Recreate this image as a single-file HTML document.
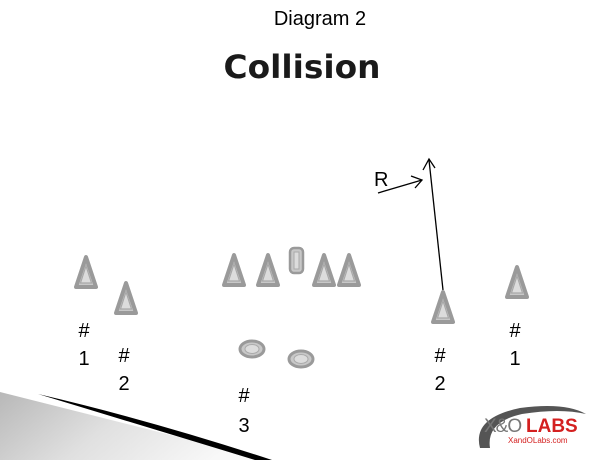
<!DOCTYPE html>
<html><head><style>
html,body{margin:0;padding:0;background:#fff;}
svg{display:block;}
text{font-family:"Liberation Sans",sans-serif;fill:#000;}
</style></head><body>
<svg width="604" height="460" viewBox="0 0 604 460" xmlns="http://www.w3.org/2000/svg">
<defs>
<g id="tri">
<path d="M0,-15 L10,15 L-10,15 Z" fill="#c8c8c8" stroke="#9a9a9a" stroke-width="4" stroke-linejoin="round"/>
<path d="M0,-6 L5.5,11 L-5.5,11 Z" fill="#dcdcdc" stroke="#a8a8a8" stroke-width="1.2"/>
</g>
<g id="ov">
<ellipse cx="0" cy="0" rx="12" ry="8" fill="#c8c8c8" stroke="#9a9a9a" stroke-width="3"/>
<ellipse cx="0" cy="0" rx="7" ry="4.5" fill="#dcdcdc" stroke="#aaa" stroke-width="1"/>
</g>
<linearGradient id="g" x1="0" y1="0" x2="1" y2="0.3">
<stop offset="0" stop-color="#b8b8b8"/><stop offset="0.5" stop-color="#e0e0e0"/><stop offset="1" stop-color="#f8f8f8"/>
</linearGradient>
</defs>
<text x="320" y="25" font-size="20" text-anchor="middle">Diagram 2</text>
<text x="302" y="78" font-size="32" font-weight="bold" text-anchor="middle" style="font-family:'DejaVu Sans',sans-serif;fill:#1a1a1a" textLength="157" lengthAdjust="spacingAndGlyphs">Collision</text>

<path d="M0,392 L270,460 L0,460 Z" fill="url(#g)"/>
<path d="M38,394 Q150,420 272,460 L255,460 Q150,428 38,394 Z" fill="#000"/>

<use href="#tri" x="86" y="272"/>
<use href="#tri" x="126" y="298"/>
<use href="#tri" x="234" y="270"/>
<use href="#tri" x="268" y="270"/>
<use href="#tri" x="324" y="270"/>
<use href="#tri" x="349" y="270"/>
<rect x="290" y="248" width="13" height="25" rx="4" fill="#c8c8c8" stroke="#9a9a9a" stroke-width="2.5"/>
<rect x="294" y="252" width="5" height="17" fill="#dcdcdc" stroke="#aaa" stroke-width="1"/>
<use href="#tri" x="443" y="307"/>
<use href="#tri" x="517" y="282"/>
<use href="#ov" x="252" y="349"/>
<use href="#ov" x="301" y="359"/>

<g stroke="#000" stroke-width="1.3" fill="none">
<line x1="443" y1="290" x2="429" y2="160"/>
<polyline points="423,170 429,159 435,168"/>
<line x1="378" y1="193" x2="422" y2="180"/>
<polyline points="411,176 422,180 415,188"/>
</g>
<text x="374" y="186" font-size="20">R</text>

<g font-size="20" text-anchor="middle">
<text x="84" y="337">#</text><text x="84" y="365">1</text>
<text x="124" y="362">#</text><text x="124" y="390">2</text>
<text x="244" y="402">#</text><text x="244" y="432">3</text>
<text x="440" y="362">#</text><text x="440" y="390">2</text>
<text x="515" y="337">#</text><text x="515" y="365">1</text>
</g>

<path d="M480,448 Q472,418 520,408 Q565,402 586,414 Q560,408 522,414 Q486,422 490,448 Z" fill="#555"/>
<text x="484" y="432" font-size="19" style="fill:#777" letter-spacing="-1">X&amp;O</text>
<text x="526" y="432" font-size="19" font-weight="bold" style="fill:#d42020">LABS</text>
<text x="508" y="443" font-size="8" style="fill:#d42020">XandOLabs.com</text>
</svg>
</body></html>
